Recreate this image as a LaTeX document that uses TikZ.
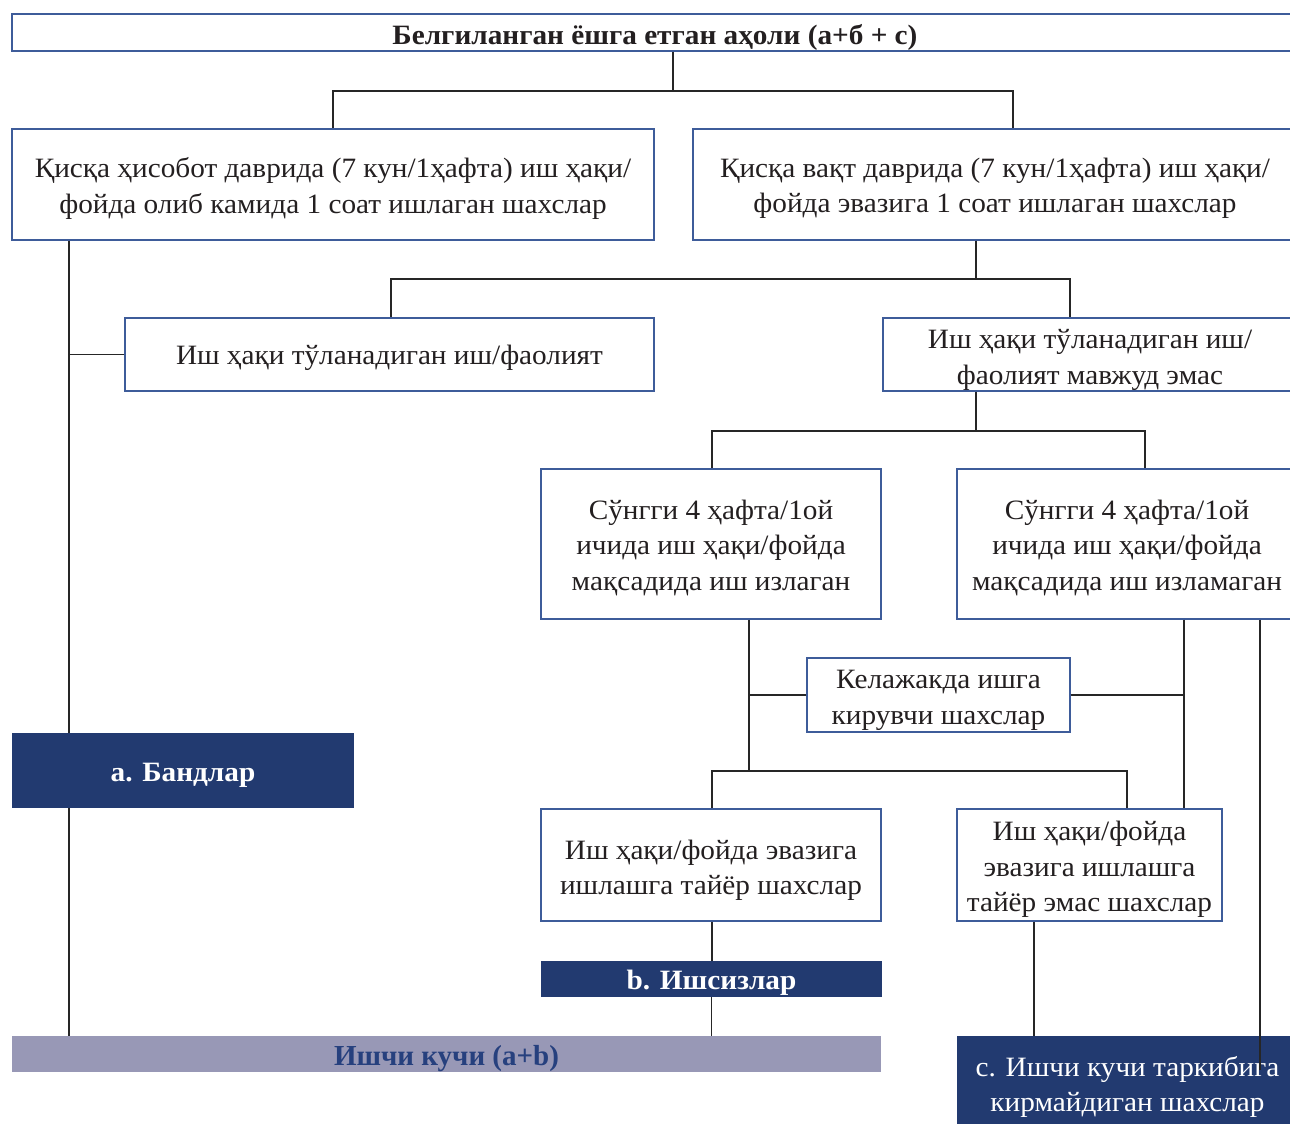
\documentclass[tikz,border=0pt]{standalone}
\usepackage{fontspec}
\usetikzlibrary{calc}
\setmainfont{Liberation Serif}[FakeStretch=1.045]
\newfontfamily\plainbf{Liberation Serif}
\definecolor{navy}{HTML}{223A70}
\definecolor{lav}{HTML}{9898B6}
\definecolor{bordc}{HTML}{3E5C9A}
\definecolor{txt}{HTML}{231F20}
\definecolor{labtxt}{HTML}{26407E}
\tikzset{
  box/.style={draw=bordc, line width=1.4pt, inner sep=0pt},
  btext/.style={inner sep=0pt, align=center, text=txt,
    font=\fontsize{28}{35.5}\selectfont},
  darkbox/.style={fill=navy, draw=none, inner sep=0pt},
  dtext/.style={inner sep=0pt, align=center, text=white,
    font=\fontsize{28}{35.5}\selectfont},
  conn/.style={draw=black!85, line width=1.2pt},
}
\begin{document}
\begin{tikzpicture}[x=1pt,y=-1pt]
\useasboundingbox (0,0) rectangle (1290,1124);
% boxes
\node[box, minimum width=1286, minimum height=37] (top) at (655,32.5) {};
\node[btext, font=\fontsize{28}{30}\selectfont\bfseries] (topt) at ($(top.center)+(0,5)$) {Белгиланган ёшга етган аҳоли (а+б + с)};
\node[box, minimum width=642, minimum height=111] (L1) at (333,184.5) {};
\node[btext] (L1t) at ($(L1.center)+(0,4)$)
  {Қисқа ҳисобот даврида (7 кун/1ҳафта) иш ҳақи/\\фойда олиб камида 1 соат ишлаган шахслар};
\node[box, minimum width=604, minimum height=111] (R1) at (995,184.5) {};
\node[btext] (R1t) at ($(R1.center)+(0,4)$)
  {Қисқа вақт даврида (7 кун/1ҳафта) иш ҳақи/\\фойда эвазига 1 соат ишлаган шахслар};
\node[box, minimum width=529, minimum height=73] (B4) at (389.5,354.5) {};
\node[btext] (B4t) at ($(B4.center)+(0,3)$) {Иш ҳақи тўланадиган иш/фаолият};
\node[box, minimum width=414, minimum height=73] (B5) at (1090,354.5) {};
\node[btext] (B5t) at ($(B5.center)+(0,5.5)$) {Иш ҳақи тўланадиган иш/\\фаолият мавжуд эмас};
\node[box, minimum width=340, minimum height=150] (B6) at (711,544) {};
\node[btext] (B6t) at ($(B6.center)+(0,3.5)$)
  {Сўнгги 4 ҳафта/1ой\\ичида иш ҳақи/фойда\\мақсадида иш излаган};
\node[box, minimum width=340, minimum height=150] (B7) at (1127,544) {};
\node[btext] (B7t) at ($(B7.center)+(0,3.5)$)
  {Сўнгги 4 ҳафта/1ой\\ичида иш ҳақи/фойда\\мақсадида иш изламаган};
\node[box, minimum width=263, minimum height=74] (B8) at (938.5,695) {};
\node[btext] (B8t) at ($(B8.center)+(0,5.5)$) {Келажакда ишга\\кирувчи шахслар};
\node[box, minimum width=340, minimum height=112] (B9) at (711,865) {};
\node[btext] (B9t) at ($(B9.center)+(0,5.5)$) {Иш ҳақи/фойда эвазига\\ишлашга тайёр шахслар};
\node[box, minimum width=265, minimum height=112] (B10) at (1089.5,865) {};
\node[btext] (B10t) at ($(B10.center)+(0,4.5)$) {Иш ҳақи/фойда\\эвазига ишлашга\\тайёр эмас шахслар};
\node[darkbox, minimum width=342, minimum height=75] (band) at (183,770.5) {};
\node[dtext, font=\fontsize{28}{30}\selectfont\bfseries] (bandt) at ($(band.center)+(0,5)$) {а. Бандлар};
\node[darkbox, minimum width=341, minimum height=36] (unemp) at (711.5,979) {};
\node[dtext, font=\fontsize{28}{30}\selectfont\bfseries] (unempt) at ($(unemp.center)+(0,4)$) {b. Ишсизлар};
\node[darkbox, fill=lav, minimum width=869, minimum height=36] (labor) at (446.5,1054) {};
\node[dtext, text=labtxt, font=\fontsize{29}{30}\plainbf\bfseries] (labort) at ($(labor.center)+(0,5)$) {Ишчи кучи (a+b)};
\node[darkbox, minimum width=341, minimum height=92] (cbox) at (1127.5,1082) {};
\node[dtext] (cboxt) at ($(cbox.center)+(0,5)$) {c. Ишчи кучи таркибига\\кирмайдиган шахслар};
% connectors
\coordinate (j1) at (673,91);
\draw[conn] (j1 |- top.south) -- (j1);
\draw[conn] (j1) -| (L1.north);
\draw[conn] (j1) -| ([xshift=18pt]R1.north);
\coordinate (j2) at (976,279);
\draw[conn] (j2 |- R1.south) -- (j2);
\draw[conn] (j2) -| ([xshift=1.5pt]B4.north);
\draw[conn] (j2) -| ([xshift=-20pt]B5.north);
\coordinate (j3) at (976,431);
\draw[conn] (j3 |- B5.south) -- (j3);
\draw[conn] (j3) -| ([xshift=1pt]B6.north);
\draw[conn] (j3) -| ([xshift=18pt]B7.north);
\coordinate (lx) at (69,0);
\draw[conn] (L1.south -| lx) -- (band.north -| lx);
\draw[conn] (B4.west) -- (B4.west -| lx);
\draw[conn] (band.south -| lx) -- (labor.north -| lx);
\coordinate (j4) at (749,771);
\draw[conn] (B6.south -| j4) -- (j4);
\draw[conn] (B8.west) -- (B8.west -| j4);
\draw[conn] (j4) -| ([xshift=1pt]B9.north);
\draw[conn] (j4) -| ([xshift=37.5pt]B10.north);
\coordinate (rx) at (1184,0);
\draw[conn] (B7.south -| rx) -- (B10.north -| rx);
\draw[conn] (B8.east) -- (B8.east -| rx);
\coordinate (ex) at (1260,1070);
\draw[conn] (B7.south -| ex) -- (ex);
\draw[conn] ([xshift=1pt]B9.south) -- ([xshift=0.5pt]unemp.north);
\draw[conn] (unemp.south) -- (unemp.south |- labor.north);
\coordinate (cx) at (1034,0);
\draw[conn] (B10.south -| cx) -- (cbox.north -| cx);
\end{tikzpicture}
\end{document}
